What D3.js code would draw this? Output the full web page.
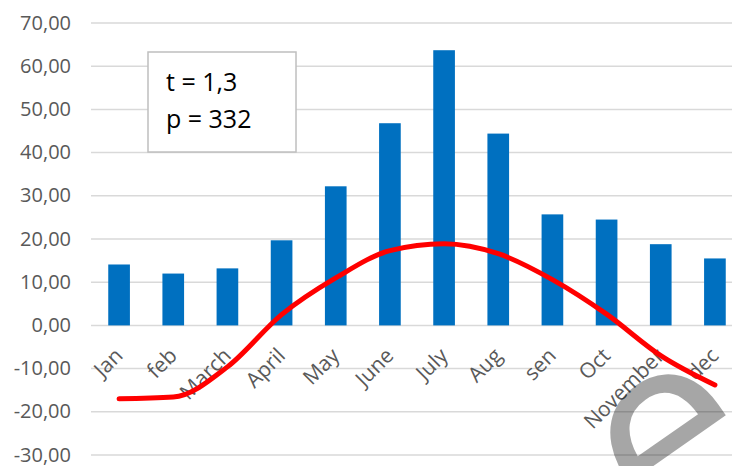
<!DOCTYPE html>
<html>
<head>
<meta charset="utf-8" />
<title>Monthly chart</title>
<script src="https://d3js.org/d3.v7.min.js"></script>
<style>
body { margin: 0; background-color: white; }
svg { display: block; background-color: white; }
text { font-family: 'Open Sans', sans-serif; }
.tick-label { fill: #595959; font-size: 20px; }
.cat-label { fill: #595959; font-size: 21px; }
.grid line { stroke: #d9d9d9; stroke-width: 1.5px; }
.bar { fill: #0070c0; }
.temp { fill: none; stroke: #ff0000; stroke-width: 5px; stroke-linecap: round; stroke-linejoin: round; }
.note rect { fill: white; stroke: #bfbfbf; stroke-width: 1.5px; }
.note text { fill: #000; font-size: 25px; }
.mark { fill: #000; fill-opacity: 0.35; }
</style>
</head>
<body>
<div id="container"></div>
<script>
    var months = ["Jan", "feb", "March", "April", "May", "June", "July", "Aug", "sen", "Oct", "November", "dec"];
    var precip = [14.1, 12.0, 13.2, 19.7, 32.2, 46.8, 63.7, 44.4, 25.7, 24.5, 18.8, 15.5];
    var temps = [-17.0, -16.6, -9.6, 2.5, 11.0, 17.3, 18.9, 16.6, 10.6, 2.6, -7.0, -13.8];
    var yTicks = [-30, -20, -10, 0, 10, 20, 30, 40, 50, 60, 70];
    var noteLines = ["t = 1,3", "p = 332"];

    var width = 732, height = 466;

    var svg = d3.select("#container").append("svg")
        .attr("width", width)
        .attr("height", height);

    var x = d3.scaleBand().domain(months).range([92, 742])
        .paddingInner(0.6).paddingOuter(0.3);
    var y = d3.scaleLinear().domain([-30, 70]).range([455, 23]);

    // grid
    var grid = svg.append("g").attr("class", "grid");
    grid.selectAll("line")
        .data(yTicks)
        .enter().append("line")
            .attr("x1", 91).attr("x2", width)
            .attr("y1", function(d) { return y(d); })
            .attr("y2", function(d) { return y(d); });

    var fmt = function(d) { return d3.format(".2f")(d).replace(".", ",").replace("−", "-"); };
    svg.append("g").selectAll("text")
        .data(yTicks)
        .enter().append("text")
            .attr("class", "tick-label")
            .attr("x", 71)
            .attr("y", function(d) { return y(d); })
            .attr("dy", "0.33em")
            .attr("text-anchor", "end")
            .text(fmt);

    // bars
    svg.append("g").selectAll("rect")
        .data(months)
        .enter().append("rect")
            .attr("class", "bar")
            .attr("x", function(d) { return x(d); })
            .attr("width", x.bandwidth())
            .attr("y", function(d, i) { return y(precip[i]); })
            .attr("height", function(d, i) { return y(0) - y(precip[i]); });

    // month labels
    svg.append("g").selectAll("text")
        .data(months)
        .enter().append("text")
            .attr("class", "cat-label")
            .attr("text-anchor", "end")
            .attr("transform", function(d) {
                return "translate(" + (x(d) + x.bandwidth() / 2 + 5) + "," + 357 + ") rotate(-45)";
            })
            .text(function(d) { return d; });

    // temperature line
    var line = d3.line()
        .x(function(d, i) { return x(months[i]) + x.bandwidth() / 2; })
        .y(function(d) { return y(d); })
        .curve(d3.curveMonotoneX);
    svg.append("path")
        .attr("class", "temp")
        .attr("d", line(temps));

    // note box
    var note = svg.append("g").attr("class", "note");
    note.append("rect").attr("x", 148).attr("y", 52).attr("width", 148).attr("height", 100);
    note.selectAll("text")
        .data(noteLines)
        .enter().append("text")
            .attr("x", 166)
            .attr("y", function(d, i) { return 91 + i * 37; })
            .text(function(d) { return d; });

    // watermark fragment
    svg.append("text")
        .attr("class", "mark")
        .attr("font-size", 260)
        .attr("transform", "translate(655,545) rotate(-35)")
        .text("e");
</script>
</body>
</html>
